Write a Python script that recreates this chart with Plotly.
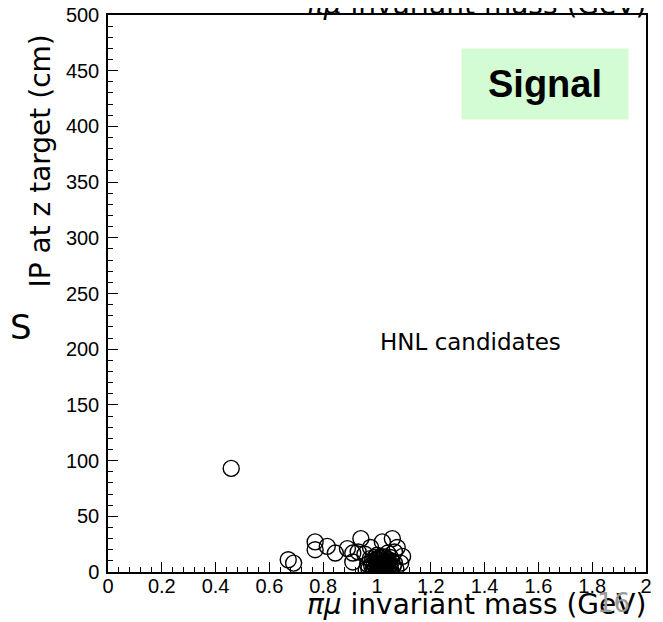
import plotly.graph_objects as go

# Sparse candidates
mass_sparse = [0.458, 0.67, 0.69, 0.77, 0.77, 0.815, 0.845, 0.89, 0.91, 0.94, 0.91, 0.93,
               0.976, 1.02, 1.057, 1.075, 1.095, 1.088, 0.955, 1.065, 1.04]
ip_sparse = [93, 11, 8, 27, 20, 23, 17, 21, 17, 30, 9, 18,
             22, 27, 30, 22, 14, 8, 16, 18, 17]

# Dense cluster near 1 GeV
mass_dense = [0.97, 0.98, 0.99, 1.00, 1.01, 1.02, 1.03, 1.04, 1.05, 1.06, 0.975, 0.995,
              1.015, 1.035, 1.055, 0.985, 1.005, 1.025, 1.045, 1.0, 1.01, 1.03, 1.02, 0.99,
              1.04, 1.065, 0.965, 1.05, 0.96, 1.07, 1.0, 1.015, 1.025, 1.035, 1.0,
              0.995, 1.005, 1.012, 1.022, 1.028, 1.038, 1.008, 0.982, 1.018, 1.032,
              0.992, 1.042, 1.048, 1.002, 1.026]
ip_dense = [3, 6, 2, 8, 4, 10, 3, 7, 2, 5, 12, 11,
            14, 12, 10, 1, 1, 6, 1, 5, 12, 9, 1, 7,
            4, 8, 7, 13, 2, 3, 15, 8, 3, 5, 2,
            4, 6, 3, 7, 2, 9, 10, 9, 5, 1,
            13, 11, 6, 11, 13]

x_ticks = [0, 0.2, 0.4, 0.6, 0.8, 1, 1.2, 1.4, 1.6, 1.8, 2]
x_ticklabels = ["0", "0.2", "0.4", "0.6", "0.8", "1", "1.2", "1.4", "1.6", "1.8", "2"]
y_ticks = [0, 50, 100, 150, 200, 250, 300, 350, 400, 450, 500]

fig = go.Figure()
fig.add_trace(go.Scatter(
    x=mass_sparse + mass_dense, y=ip_sparse + ip_dense, mode="markers",
    marker=dict(symbol="circle-open", size=16, color="black", line=dict(width=1.4)),
    cliponaxis=True, showlegend=False))

axis_common = dict(showgrid=False, zeroline=False, showline=True, linecolor="black",
                   linewidth=1.5, mirror=True, ticks="inside", tickcolor="black",
                   tickwidth=1, ticklen=10, ticklabeloverflow="allow", automargin=False,
                   tickfont=dict(family="Liberation Sans, Arial", size=20, color="black"))

fig.update_xaxes(range=[0, 2], tickvals=x_ticks, ticktext=x_ticklabels,
                 minor=dict(dtick=0.04, ticks="inside", ticklen=5, tickcolor="black"),
                 ticklabelstandoff=-5, **axis_common)
fig.update_yaxes(range=[0, 500], tickvals=y_ticks,
                 minor=dict(dtick=10, ticks="inside", ticklen=5, tickcolor="black"),
                 ticklabelstandoff=3, **axis_common)

gothic = "DejaVu Sans, Lato, sans-serif"
fig.update_layout(
    width=655, height=614, margin=dict(l=100, r=17, t=7, b=50, autoexpand=False),
    paper_bgcolor="white", plot_bgcolor="white",
    annotations=[
        dict(text="<i>πμ</i> invariant mass (GeV)", xref="paper", yref="paper",
             x=1.0, y=1.0, xanchor="right", yanchor="bottom", yshift=-8, xshift=2,
             showarrow=False, font=dict(family=gothic, size=28, color="black")),
        dict(text="<i>πμ</i> invariant mass (GeV)", xref="paper", yref="paper",
             x=1.0, y=0, xanchor="right", yanchor="top", yshift=-14, xshift=2,
             showarrow=False, font=dict(family=gothic, size=28, color="black")),
        dict(text="IP at z target (cm)", xref="paper", yref="paper", textangle=-90,
             x=0, y=1.0, xanchor="center", yanchor="top", xshift=-68, yshift=-18,
             showarrow=False, font=dict(family=gothic, size=28, color="black")),
        dict(text="S", xref="paper", yref="paper", x=0, y=0.44, xanchor="center",
             yanchor="middle", xshift=-87, showarrow=False,
             font=dict(family=gothic, size=34, color="black")),
        dict(text="HNL candidates", xref="paper", yref="paper", x=0.674, y=0.413,
             xanchor="center", yanchor="middle", showarrow=False,
             font=dict(family=gothic, size=23, color="black")),
        dict(text="<b>Signal</b>", xref="paper", yref="paper", x=0.813, y=0.877,
             xanchor="center", yanchor="middle", showarrow=False,
             bgcolor="#d4fcd4", width=164, height=68,
             font=dict(family="Liberation Sans, Arial", size=38, color="black")),
        dict(text="16", xref="paper", yref="paper", x=0.94, y=0, xanchor="center",
             yanchor="top", yshift=-14, showarrow=False,
             font=dict(family=gothic, size=26, color="#9a9a9a")),
    ],
)

fig.write_html("out.html")
